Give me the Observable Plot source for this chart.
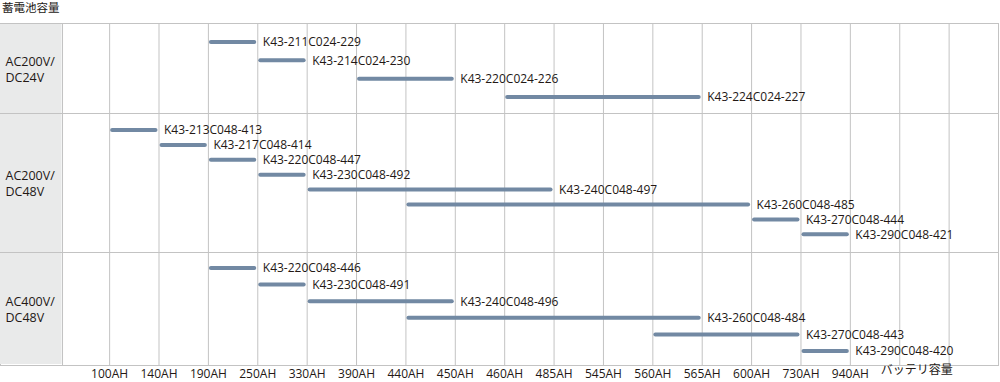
<!DOCTYPE html>
<html>
<head>
<meta charset="utf-8">
<script src="https://cdn.jsdelivr.net/npm/d3@7"></script>
<script src="https://cdn.jsdelivr.net/npm/@observablehq/plot@0.6"></script>
<style>
  html, body { margin: 0; padding: 0; background: #fff; }
  #title { height: 23px; line-height: 15px; font-size: 11.5px; font-family: 'Noto Sans CJK JP', sans-serif; color: #231815; padding-left: 2px; box-sizing: border-box; }
  #chart svg { display: block; }
</style>
</head>
<body>
<div id="title"></div>
<div id="chart"></div>
<script>
// ---- data ----
const titleText = "蓄電池容量";
const capacities = ["100AH","140AH","190AH","250AH","330AH","390AH","440AH","450AH","460AH","485AH","545AH","560AH","565AH","600AH","730AH","940AH"];
const unitLabel = "バッテリ容量";
const groupNames = ["AC200V/\nDC24V", "AC200V/\nDC48V", "AC400V/\nDC48V"];
const models = [
  "K43-211C024-229","K43-214C024-230","K43-220C024-226","K43-224C024-227",
  "K43-213C048-413","K43-217C048-414","K43-220C048-447","K43-230C048-492","K43-240C048-497","K43-260C048-485","K43-270C048-444","K43-290C048-421",
  "K43-220C048-446","K43-230C048-491","K43-240C048-496","K43-260C048-484","K43-270C048-443","K43-290C048-420"
];
const modelGroup = [0,0,0,0, 1,1,1,1,1,1,1,1, 2,2,2,2,2,2];
const fromCapacity = [
  "190AH","250AH","390AH","460AH",
  "100AH","140AH","190AH","250AH","330AH","440AH","600AH","730AH",
  "190AH","250AH","330AH","440AH","560AH","730AH"
];
const toCapacity = [
  "250AH","330AH","450AH","565AH",
  "140AH","190AH","250AH","330AH","485AH","600AH","730AH","940AH",
  "250AH","330AH","450AH","565AH","730AH","940AH"
];

// ---- styling / layout ----
const font = "'Open Sans', 'Noto Sans CJK JP', sans-serif";
const textColor = "#231815";
const gridColor = "#c3c3c3";
const cellFill = "#e9eaea";
const barColor = "#7289a3";
const barH = 4;
const xMin = -2.21, xMax = 18;         // column index domain (label column on the left)
const labelColumnEdge = -0.954;         // right edge of the grey label column, in column units
const axisHeight = 17;
const layout = [
  {height: 90,  first: 19, last: 74},
  {height: 139, first: 17, last: 121.3},
  {height: 113, first: 16, last: 99}
];

document.getElementById("title").textContent = titleText;

const rows = models.map((m, i) => ({
  model: m,
  group: modelGroup[i],
  from: capacities.indexOf(fromCapacity[i]),
  to: capacities.indexOf(toCapacity[i])
}));

const chart = document.getElementById("chart");
groupNames.forEach((gName, g) => {
  const gRows = rows.filter(r => r.group === g);
  const L = layout[g];
  const n = gRows.length;
  const step = (L.last - L.first) / (n - 1);
  const isLast = g === groupNames.length - 1;
  const marks = [
    Plot.ruleX([labelColumnEdge, ...d3.range(capacities.length + 2)], {x: d => d, stroke: gridColor}),
    Plot.frame({stroke: gridColor}),
    Plot.rect([gName], {x1: () => xMin - 0.05, x2: () => labelColumnEdge, fill: cellFill, insetTop: 1, insetBottom: isLast ? 1 : 0, insetRight: 0.5}),
    Plot.text([gName], {frameAnchor: "left", dx: 5, textAnchor: "start", lineHeight: 1.3, fill: textColor, fontSize: 12.5}),
    Plot.barX(gRows, {x1: "from", x2: "to", y: "model", fill: barColor, insetLeft: 1, insetRight: 1, rx: 2}),
    Plot.text(gRows, {x: "to", y: "model", text: "model", dx: 5, textAnchor: "start", fill: textColor, fontSize: 12})
  ];
  if (isLast) {
    marks.push(Plot.text([unitLabel], {x: () => capacities.length, frameAnchor: "bottom", dy: 8.5, dx: -19, textAnchor: "start", fill: textColor, fontSize: 12}));
  }
  const plot = Plot.plot({
    width: 1000,
    height: L.height + (isLast ? axisHeight : 0),
    marginTop: 0,
    marginBottom: isLast ? axisHeight : 0,
    marginLeft: 0,
    marginRight: 2,
    style: {fontFamily: font, fontSize: "12px", color: textColor, background: "#fff"},
    x: {
      type: "linear", domain: [xMin, xMax],
      axis: isLast ? "bottom" : null,
      ticks: d3.range(capacities.length),
      tickFormat: i => capacities[i],
      tickSize: 0, tickPadding: 4, label: null
    },
    y: {
      type: "band", domain: gRows.map(r => r.model),
      paddingInner: 1 - barH / step, paddingOuter: 0, round: false,
      insetTop: L.first - barH / 2, insetBottom: L.height - L.last - barH / 2,
      axis: null
    },
    marks
  });
  chart.appendChild(plot);
});
</script>
</body>
</html>
